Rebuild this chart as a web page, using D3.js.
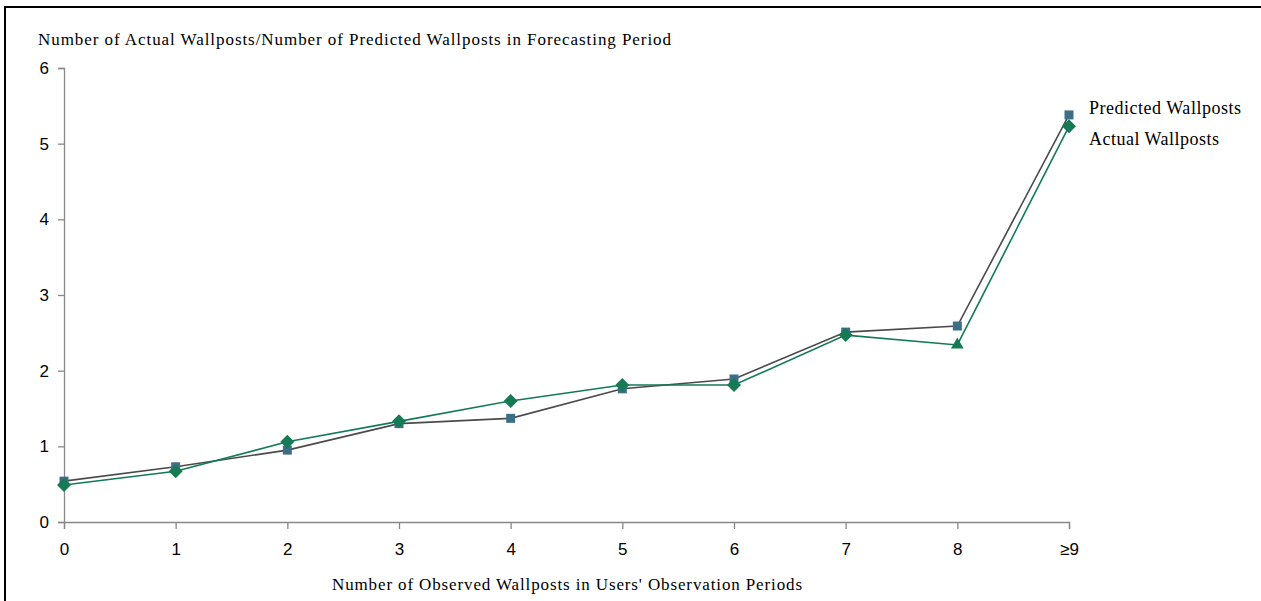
<!DOCTYPE html>
<html><head><meta charset="utf-8">
<script src="https://cdn.jsdelivr.net/npm/d3@7"></script>
<style>body{margin:0;background:#fff}svg{display:block}</style>
</head><body><svg id="c" width="1261" height="601"></svg>
<script>
const categories = ["0","1","2","3","4","5","6","7","8","≥9"];
const predicted = [0.54,0.73,0.95,1.30,1.37,1.76,1.89,2.51,2.59,5.38];
const actual = [0.49,0.67,1.06,1.33,1.60,1.81,1.81,2.47,2.34,5.23];
const actualMarkers = ["d","d","d","d","d","d","d","d","t","d"];
const yTicks = [0,1,2,3,4,5,6];
const seriesNames = ["Predicted Wallposts","Actual Wallposts"];

const svg = d3.select("#c");
svg.append("rect").attr("x",5).attr("y",7).attr("width",1400).attr("height",800)
  .attr("fill","none").attr("stroke","#000").attr("stroke-width",2);

const x = d3.scalePoint().domain(categories).range([64,1069]);
const y = d3.scaleLinear().domain([0,6]).range([522,68]);

const yAxis = svg.append("g").attr("transform","translate(64,0)")
  .call(d3.axisLeft(y).tickValues(yTicks).tickFormat(d3.format("d")).tickSize(6).tickPadding(9));
const xAxis = svg.append("g").attr("transform","translate(0,522)")
  .call(d3.axisBottom(x).tickSize(7).tickPadding(14));
[yAxis,xAxis].forEach(g=>{
  g.attr("font-size",null).attr("font-family",null);
  g.select(".domain").attr("stroke","#888").attr("stroke-width",1.3);
  g.selectAll(".tick line").attr("stroke","#888").attr("stroke-width",1.3);
  g.selectAll(".tick text").attr("fill","#000").style("font-family","Liberation Sans, Arial, sans-serif").style("font-size","17px");
});

const line = d3.line().x((d,i)=>x(categories[i])).y(d=>y(d));
svg.append("path").datum(predicted).attr("d",line).attr("fill","none").attr("stroke","#4a4a4a").attr("stroke-width",1.6);
svg.append("path").datum(actual).attr("d",line).attr("fill","none").attr("stroke","#127a56").attr("stroke-width",1.6);

svg.selectAll(".pm").data(predicted).enter().append("path")
  .attr("d",d3.symbol(d3.symbolSquare,81)())
  .attr("transform",(d,i)=>`translate(${x(categories[i])},${y(d)})`)
  .attr("fill","#3d6e88");
svg.selectAll(".am").data(actual).enter().append("path")
  .attr("d",(d,i)=> actualMarkers[i]==="t" ? d3.symbol(d3.symbolTriangle,70)() : "M0,-7L7,0L0,7L-7,0Z")
  .attr("transform",(d,i)=>`translate(${x(categories[i])},${y(d)})`)
  .attr("fill","#167a55");

const serif = "Liberation Serif, Times New Roman, serif";
svg.append("text").attr("x",38).attr("y",45).text("Number of Actual Wallposts/Number of Predicted Wallposts in Forecasting Period")
  .attr("textLength",633).attr("lengthAdjust","spacing")
  .style("font-family",serif).style("font-size","17px");
svg.append("text").attr("x",332).attr("y",590)
  .text("Number of Observed Wallposts in Users' Observation Periods")
  .attr("textLength",470).attr("lengthAdjust","spacing")
  .style("font-family",serif).style("font-size","17px");
const lgLen = [152,130];
svg.selectAll(".lg").data(seriesNames).enter().append("text")
  .attr("x",1089).attr("y",(d,i)=>114+i*31).text(d=>d)
  .attr("textLength",(d,i)=>lgLen[i]).attr("lengthAdjust","spacing")
  .style("font-family",serif).style("font-size","18px");
</script></body></html>
